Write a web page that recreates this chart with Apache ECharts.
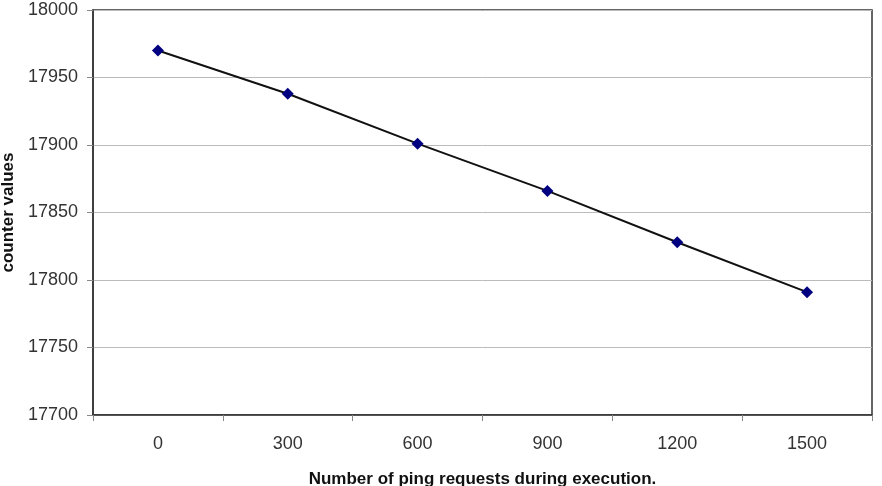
<!DOCTYPE html>
<html><head><meta charset="utf-8">
<script src="https://cdn.jsdelivr.net/npm/echarts@6/dist/echarts.min.js"></script>
<style>html,body{margin:0;padding:0;background:#fff}#c{width:882px;height:486px}</style>
</head><body><div id="c"></div>
<script>
const categories = ['0','300','600','900','1200','1500'];
const counterValues = [17970, 17938, 17901, 17866, 17828, 17791];
const yMin = 17700, yMax = 18000, yStep = 50;

const chart = echarts.init(document.getElementById('c'), null, {renderer:'canvas'});
chart.setOption({
  animation:false,
  backgroundColor:'#fff',
  grid:{left:93, right:10, top:10, bottom:71, containLabel:false, outerBoundsMode:'none',
        show:true, borderColor:'#333', borderWidth:1.5, backgroundColor:'#fff'},
  xAxis:{
    type:'category', data:categories, boundaryGap:true,
    name:'Number of ping requests during execution.', nameLocation:'middle', nameGap:56,
    nameTextStyle:{fontFamily:'Liberation Sans, Arial', fontWeight:'bold', fontSize:17, color:'#111'},
    axisLine:{lineStyle:{color:'#333', width:1.5}},
    axisTick:{show:true, length:6, lineStyle:{color:'#888'}},
    axisLabel:{fontFamily:'Liberation Sans, Arial', fontSize:18, color:'#333', margin:20},
    splitLine:{show:false}
  },
  yAxis:{
    type:'value', min:yMin, max:yMax, interval:yStep,
    name:'counter values', nameLocation:'middle', nameGap:74, nameRotate:90,
    nameTextStyle:{fontFamily:'Liberation Sans, Arial', fontWeight:'bold', fontSize:17, color:'#111'},
    axisLine:{show:true, lineStyle:{color:'#333', width:1.5}},
    axisTick:{show:true, length:6, lineStyle:{color:'#888'}},
    axisLabel:{fontFamily:'Liberation Sans, Arial', fontSize:18, color:'#333', margin:15, formatter:v=>String(v)},
    splitLine:{show:true, lineStyle:{color:'#bbb', width:1}}
  },
  series:[{
    type:'line', data:counterValues,
    symbol:'diamond', symbolSize:12,
    itemStyle:{color:'#000080'},
    lineStyle:{color:'#111', width:2}
  }]
});
</script></body></html>
